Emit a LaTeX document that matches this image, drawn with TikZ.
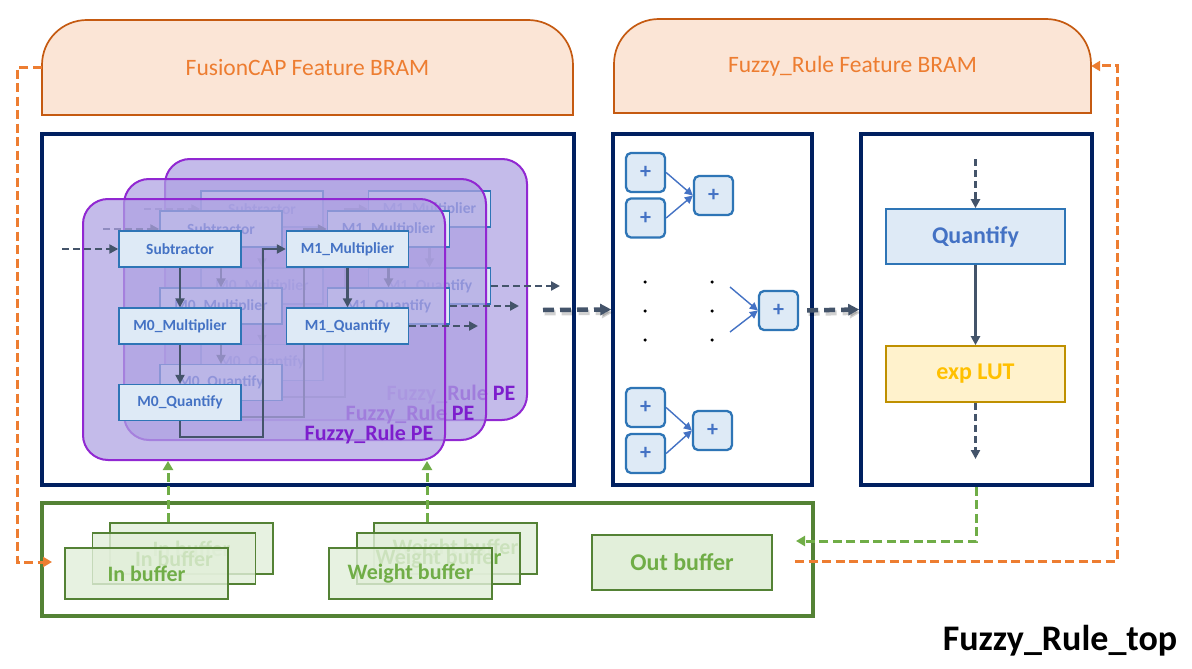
\documentclass[tikz,border=0pt]{standalone}
\usepackage{fontspec}
\setmainfont{Carlito}
\usetikzlibrary{arrows.meta,calc}
\definecolor{navy}{HTML}{002060}
\definecolor{arrowgray}{HTML}{44546A}
\definecolor{boxblue}{HTML}{2E75B6}
\definecolor{boxfill}{HTML}{DEEAF6}
\definecolor{textblue}{HTML}{4472C4}
\definecolor{pefill}{RGB}{174,162,226}
\definecolor{peborder}{RGB}{145,40,210}
\definecolor{pelabelc}{RGB}{125,30,205}
\definecolor{bramfill}{HTML}{FBE5D6}
\definecolor{bramdraw}{HTML}{C55A11}
\definecolor{bramtext}{HTML}{ED7D31}
\definecolor{gdark}{HTML}{548235}
\definecolor{glight}{HTML}{70AD47}
\definecolor{gfill}{HTML}{E2EFDA}
\definecolor{lutfill}{HTML}{FFF2CC}
\definecolor{lutdraw}{HTML}{BF9000}
\definecolor{luttext}{HTML}{FFC000}
\tikzset{
  container/.style={draw=navy,line width=3.5pt,fill=white,inner sep=0pt},
  pecard/.style={draw=peborder,line width=2pt,fill=pefill,fill opacity=0.72,rounded corners=25pt},
  pebox/.style={draw=boxblue,line width=1.4pt,fill=boxfill,text=textblue,inner sep=0pt,
    minimum width=122pt,minimum height=36pt,font=\fontsize{15.5}{17}\selectfont\bfseries},
  pelabel/.style={text=pelabelc,font=\fontsize{22}{24}\selectfont\bfseries,inner sep=0pt},
  solidarr/.style={draw=arrowgray,line width=2.8pt,-{Triangle[length=9pt,width=9pt]}},
  dasharr/.style={draw=arrowgray,line width=2.8pt,dash pattern=on 7pt off 4pt,-{Triangle[length=9pt,width=9pt]}},
  bigdash/.style={draw=arrowgray,line width=4.5pt,dash pattern=on 11pt off 6pt,-{Triangle[length=11pt,width=11pt]}},
  bigshadow/.style={draw=black,draw opacity=0.18,fill opacity=0.18,line width=5pt,dash pattern=on 11pt off 6pt,-{Triangle[length=11pt,width=11pt]}},
  bram/.style={draw=bramdraw,line width=1.7pt,fill=bramfill},
  bramlabel/.style={text=bramtext,font=\fontsize{23.5}{25}\selectfont,inner sep=0pt},
  orangedash/.style={draw=bramtext,line width=3pt,dash pattern=on 9pt off 4.5pt,-{Triangle[length=9pt,width=10pt]}},
  greendash/.style={draw=glight,line width=3pt,dash pattern=on 9pt off 4.5pt,-{Triangle[length=9pt,width=10pt]}},
  buf/.style={draw=gdark,line width=1.6pt,fill=gfill,fill opacity=0.8,text opacity=1,text=glight,
    minimum width=163pt,minimum height=51pt,inner sep=0pt,font=\fontsize{22}{24}\selectfont\bfseries},
  adder/.style={draw=boxblue,line width=2.3pt,fill=boxfill,rounded corners=5pt,minimum width=39pt,
    minimum height=39pt,inner sep=0pt,text=textblue,font=\fontsize{22}{24}\selectfont\bfseries},
  addarr/.style={draw=textblue,line width=1.4pt,-{Triangle[length=8pt,width=8pt]}},
  bigbox/.style={draw=boxblue,line width=1.7pt,fill=boxfill,text=textblue,minimum width=179pt,
    minimum height=55pt,inner sep=0pt,font=\fontsize{24}{26}\selectfont\bfseries},
  lutbox/.style={draw=lutdraw,line width=1.7pt,fill=lutfill,text=luttext,minimum width=179pt,
    minimum height=56pt,inner sep=0pt,font=\fontsize{24}{26}\selectfont\bfseries},
  dotc/.style={circle,fill=black,inner sep=0pt,minimum size=3.5pt},
  pe/.pic={
    \path[pecard] (83,199) rectangle (445,460);
    \node[pebox] (-sub) at (180,249) {Subtractor};
    \node[pebox] (-m0m) at (180,326) {M0\_Multiplier};
    \node[pebox] (-m0q) at (180,402.5) {M0\_Quantify};
    \node[pebox] (-m1m) at (347.5,249) {M1\_Multiplier};
    \node[pebox] (-m1q) at (347.5,326) {M1\_Quantify};
    \coordinate (-in) at (62,249);
    \coordinate (-out) at (478,326);
    \draw[dasharr] (-in) -- (-sub.west);
    \draw[solidarr] (-sub) -- (-m0m);
    \draw[solidarr] (-m0m) -- (-m0q);
    \draw[solidarr] (-m0q.south) |- (263,437) -- (263,249) -- (-m1m.west);
    \draw[solidarr] (-m1m) -- (-m1q);
    \draw[dasharr] (-m1q.east) -- (-out);
    \node[pelabel] (-lab) at (369,435) {Fuzzy\_Rule PE};
  }
}
\begin{document}
\begin{tikzpicture}[x=1pt,y=-1pt]
\useasboundingbox (0,0) rectangle (1192,669);
\fill[white] (0,0) rectangle (1192,669);

% BRAMs
\draw[bram] (42,115) -- (42,65) .. controls (42,40) and (62,20) .. (87,20) -- (528,20)
  .. controls (553,20) and (573,40) .. (573,65) -- (573,115) -- cycle;
\node[bramlabel,minimum width=531pt,minimum height=95pt] (bramL) at (307.5,67.5) {FusionCAP Feature BRAM};
\draw[bram] (614,113) -- (614,64) .. controls (614,39) and (634,19) .. (659,19) -- (1046,19)
  .. controls (1071,19) and (1091,39) .. (1091,64) -- (1091,113) -- cycle;
\node[bramlabel,minimum width=477pt,minimum height=94pt] (bramR) at (852.5,66) {Fuzzy\_Rule Feature BRAM};

% containers
\node[container,minimum width=532pt,minimum height=351pt] (leftbox) at (308,309.5) {};
\node[container,minimum width=199pt,minimum height=351pt] (midbox) at (712.5,309.5) {};
\node[container,minimum width=231pt,minimum height=351pt] (rightbox) at (976.5,309.5) {};
\node[draw=gdark,line width=3.5pt,minimum width=771pt,minimum height=113pt,inner sep=0pt] (bufbox) at (427.5,559.5) {};

% PE stack
\pic (b) at (82,-40) {pe};
\pic (m) at (41,-20) {pe};
\pic (f) at (0,0) {pe};

% adder tree
\node[adder] (a1) at (645.5,172.5) {+};
\node[adder] (a2) at (645.5,218) {+};
\node[adder] (a3) at (713.5,195.5) {+};
\node[adder] (a4) at (645.5,407.5) {+};
\node[adder] (a5) at (645.5,453.5) {+};
\node[adder] (a6) at (712.5,430.5) {+};
\node[adder] (a7) at (778.5,310.5) {+};
\draw[addarr] (a1.east) -- (a3.west);
\draw[addarr] (a2.east) -- (a3.west);
\draw[addarr] (a4.east) -- (a6.west);
\draw[addarr] (a5.east) -- (a6.west);
\foreach \i/\x/\y in {1/645/282,2/645/311,3/645/340,4/712/282,5/712/311,6/712/340}
  \node[dotc] (d\i) at (\x,\y) {};
\coordinate (s1) at (730,287);
\coordinate (s2) at (730,332);
\draw[addarr] (s1) -- (a7.west);
\draw[addarr] (s2) -- (a7.west);

% right block
\node[bigbox] (q) at (975.5,236.5) {Quantify};
\node[lutbox] (lut) at (975.5,374) {exp LUT};
\coordinate (qin) at (975.5,159);
\coordinate (lutout) at (975.5,459);
\draw[dasharr,line width=3.5pt] (qin) -- (q.north);
\draw[solidarr,line width=3.5pt] (q) -- (lut);
\draw[dasharr,line width=3.5pt] (lut.south) -- (lutout);

% big dashed links (with soft shadow)
\coordinate (peout) at (543,310);
\draw[bigshadow,transform canvas={xshift=1.5pt,yshift=-3pt}] (peout) -- (midbox.west);
\draw[bigshadow,shorten <=8pt,transform canvas={xshift=1.5pt,yshift=-3pt}] (a7.east) -- (rightbox.west);
\draw[bigdash] (peout) -- (midbox.west);
\draw[bigdash,shorten <=8pt] (a7.east) -- (rightbox.west);

% buffers
\node[buf] (ib3) at (191.5,548.5) {In buffer};
\node[buf] (ib2) at (174,558.5) {In buffer};
\node[buf] (ib1) at (146.5,573.5) {In buffer};
\node[buf] (wb3) at (455.5,548.5) {Weight buffer};
\node[buf] (wb2) at (438.5,558.5) {Weight buffer};
\node[buf] (wb1) at (410.5,573.5) {Weight buffer};
\node[buf,fill opacity=1,minimum width=180pt,minimum height=55pt,font=\fontsize{24}{26}\selectfont\bfseries] (ob) at (682,562.5) {Out buffer};

% green links
\coordinate (gA) at (168,461);
\coordinate (gB) at (427,461);
\draw[greendash] (ib3.north -| gA) -- (gA);
\draw[greendash] (wb3.north -| gB) -- (gB);
\coordinate (gO) at (796,541);
\draw[greendash] (rightbox.south) |- (gO);

% orange links
\coordinate (oIn) at (52,562);
\coordinate (oOut) at (795,561);
\draw[orangedash] (bramL.west) -- (17,67.5) -- (17,562) -- (oIn);
\draw[orangedash] (oOut) -- (1117,561) -- (1117,66) -- (bramR.east);

% title
\node[font=\fontsize{36}{38}\selectfont\bfseries,inner sep=0pt] (title) at (1060,641) {Fuzzy\_Rule\_top};
\end{tikzpicture}
\end{document}
